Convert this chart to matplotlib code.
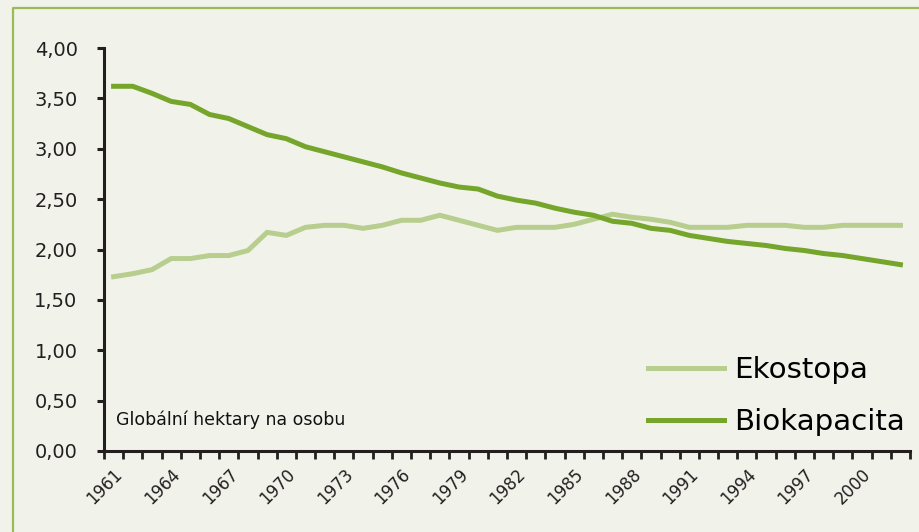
import matplotlib
matplotlib.use("Agg")
import matplotlib.pyplot as plt
from matplotlib.lines import Line2D

years = list(range(1961, 2003))

# Ekostopa (ecological footprint), gha per person
ekostopa = [1.73, 1.76, 1.80, 1.91, 1.91, 1.94, 1.94, 1.99, 2.17, 2.14,
            2.22, 2.24, 2.24, 2.21, 2.24, 2.29, 2.29, 2.34, 2.29, 2.24,
            2.19, 2.22, 2.22, 2.22, 2.25, 2.30, 2.35, 2.32, 2.30, 2.27,
            2.22, 2.22, 2.22, 2.24, 2.24, 2.24, 2.22, 2.22, 2.24, 2.24,
            2.24, 2.24]

# Biokapacita (biocapacity), gha per person
biokapacita = [3.62, 3.62, 3.55, 3.47, 3.44, 3.34, 3.30, 3.22, 3.14, 3.10,
               3.02, 2.97, 2.92, 2.87, 2.82, 2.76, 2.71, 2.66, 2.62, 2.60,
               2.53, 2.49, 2.46, 2.41, 2.37, 2.34, 2.28, 2.26, 2.21, 2.19,
               2.14, 2.11, 2.08, 2.06, 2.04, 2.01, 1.99, 1.96, 1.94, 1.91,
               1.88, 1.85]

yticks = [0, 0.5, 1, 1.5, 2, 2.5, 3, 3.5, 4]

bg = "#F1F3EB"
light = "#B8CE8E"
dark = "#76A52B"
axcol = "#231F20"

fig = plt.figure(figsize=(9.2, 5.32), dpi=100)
fig.patch.set_facecolor(bg)
# frame: only left and top edges are visible in the picture
bx, by = 13.5 / 920, 1 - 7.5 / 532
fig.lines.append(Line2D([bx, bx, 1.0], [0.0, by, by], transform=fig.transFigure,
                        color="#9BBB59", linewidth=1.6))

ax = fig.add_axes([104 / 920, 1 - 451 / 532, 806 / 920, 403 / 532])
ax.set_facecolor(bg)

x = list(range(len(years)))
ax.plot(x, ekostopa, color=light, linewidth=3.6, label="Ekostopa",
        solid_joinstyle="miter")
ax.plot(x, biokapacita, color=dark, linewidth=3.6, label="Biokapacita",
        solid_joinstyle="miter")

ax.set_xlim(-0.5, len(years) - 0.5)
ax.set_ylim(0, 4)

for s in ["top", "right"]:
    ax.spines[s].set_visible(False)
for s in ["left", "bottom"]:
    ax.spines[s].set_color(axcol)
    ax.spines[s].set_linewidth(2.2)

ax.set_yticks(yticks)
ax.set_yticklabels([("%.2f" % v).replace(".", ",") for v in yticks],
                   fontsize=14, color=axcol)
ax.tick_params(axis="y", length=5, width=2.2, color=axcol, pad=14)

lab_pos = x[::3]
ax.set_xticks(lab_pos)
ax.set_xticklabels([str(years[i]) for i in lab_pos], fontsize=12,
                   rotation=45, ha="right", rotation_mode="anchor",
                   color=axcol)
ax.tick_params(axis="x", length=0, pad=10)
ax.set_xticks([i - 0.5 for i in range(len(years) + 1)], minor=True)
ax.tick_params(axis="x", which="minor", length=6, width=2, color=axcol)

ax.text(0.015, 0.077, "Globální hektary na osobu", transform=ax.transAxes,
        fontsize=12.5, va="center", ha="left", color="#111111")

ax.legend(loc="lower right", bbox_to_anchor=(1.012, 0.0), frameon=False,
          fontsize=21.2, handlelength=2.6, handletextpad=0.33,
          labelspacing=0.82, borderaxespad=0.1)

fig.savefig("out.png", dpi=100, facecolor=bg)
